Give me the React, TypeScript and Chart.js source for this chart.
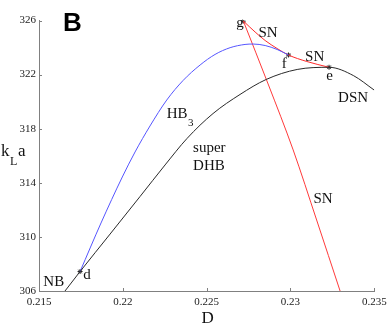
import React, { useEffect, useRef } from "react";
import { Chart, registerables } from "chart.js";

Chart.register(...registerables);

// Axis ticks
const X_TICKS = [0.215, 0.22, 0.225, 0.23, 0.235];
const Y_TICKS = [306, 310, 314, 318, 322, 326];

// super DHB / DSN branch (black)
const DHB_D = [0.21655, 0.21745, 0.21924, 0.22103, 0.22252, 0.22383, 0.22538, 0.22699, 0.22855, 0.2304, 0.2323, 0.23375, 0.23499];
const DHB_K = [306.0, 307.44, 310.21, 312.99, 315.32, 317.28, 319.12, 320.53, 321.64, 322.38, 322.54, 321.93, 320.86];

// HB3 branch (blue)
const HB3_D = [0.21745, 0.2187, 0.21997, 0.22073, 0.22162, 0.22262, 0.22359, 0.22461, 0.2255, 0.2264, 0.22729, 0.22777, 0.22849, 0.2292, 0.22988];
const HB3_K = [307.44, 311.03, 314.43, 316.28, 318.2, 320.12, 321.56, 322.71, 323.49, 323.99, 324.23, 324.26, 324.15, 323.86, 323.45];

// SN upper branch g -> f -> e (red)
const SNU_D = [0.22719, 0.22789, 0.22849, 0.2292, 0.22988, 0.23097, 0.2323];
const SNU_K = [325.96, 325.15, 324.52, 323.93, 323.45, 322.97, 322.54];

// SN lower branch g -> axis (red)
const SNL_D = [0.22719, 0.22869, 0.23016, 0.23156, 0.23296];
const SNL_K = [325.96, 321.23, 316.43, 311.25, 306.0];

// Special points d, e, f, g
const PT_D = [0.21745, 0.2323, 0.22988, 0.22719];
const PT_K = [307.44, 322.54, 323.45, 325.96];

// Text labels (anchored in data coordinates)
const LABEL_TEXT = ["SN", "SN", "DSN", "SN", "g", "f", "e", "d", "NB", "HB", "super", "DHB"];
const LABEL_D = [0.22809, 0.23087, 0.23284, 0.23137, 0.22676, 0.22948, 0.23213, 0.21764, 0.21526, 0.22262, 0.22419, 0.22419];
const LABEL_K = [324.78, 323.01, 320.01, 312.51, 325.52, 322.49, 321.6, 306.89, 306.37, 318.79, 316.28, 314.95];
const SUB_TEXT = ["3"];
const SUB_D = [0.22389];
const SUB_K = [318.2];
const PANEL = "B";
const PANEL_D = 0.21643;
const PANEL_K = 325.22;

const zip = (xs: number[], ys: number[]) => xs.map((v, i) => ({ x: v, y: ys[i] }));

const SERIF = '"Liberation Serif", "Times New Roman", serif';

const textPlugin = {
  id: "annotText",
  afterDatasetsDraw(chart: any) {
    const { ctx, chartArea } = chart;
    const xs = chart.scales.x;
    const ys = chart.scales.y;
    ctx.save();
    // inward tick marks
    ctx.strokeStyle = "#808080";
    ctx.lineWidth = 1;
    ctx.beginPath();
    X_TICKS.forEach((v) => {
      const px = Math.round(xs.getPixelForValue(v)) + 0.5;
      ctx.moveTo(px, chartArea.bottom);
      ctx.lineTo(px, chartArea.bottom - 3);
    });
    Y_TICKS.forEach((v) => {
      const py = Math.round(ys.getPixelForValue(v)) + 0.5;
      ctx.moveTo(chartArea.left, py);
      ctx.lineTo(chartArea.left + 3, py);
    });
    ctx.stroke();

    ctx.fillStyle = "#111";
    ctx.textAlign = "left";
    ctx.textBaseline = "alphabetic";
    ctx.font = `15px ${SERIF}`;
    LABEL_TEXT.forEach((t, i) => {
      ctx.fillText(t, xs.getPixelForValue(LABEL_D[i]), ys.getPixelForValue(LABEL_K[i]));
    });
    ctx.font = `11px ${SERIF}`;
    SUB_TEXT.forEach((t, i) => {
      ctx.fillText(t, xs.getPixelForValue(SUB_D[i]), ys.getPixelForValue(SUB_K[i]));
    });
    ctx.fillStyle = "#000";
    ctx.font = `700 26px "Liberation Sans", Arial, sans-serif`;
    ctx.fillText(PANEL, xs.getPixelForValue(PANEL_D), ys.getPixelForValue(PANEL_K));

    // axis titles
    ctx.fillStyle = "#111";
    ctx.font = `17px ${SERIF}`;
    ctx.textAlign = "center";
    ctx.fillText("D", (chartArea.left + chartArea.right) / 2 + 1, chartArea.bottom + 32);
    const cy = (chartArea.top + chartArea.bottom) / 2;
    ctx.textAlign = "left";
    ctx.fillText("k", 1, cy);
    ctx.font = `12px ${SERIF}`;
    ctx.fillText("L", 10, cy + 9);
    ctx.font = `17px ${SERIF}`;
    ctx.fillText("a", 18, cy);
    ctx.restore();
  },
};

export default function App() {
  const ref = useRef<HTMLCanvasElement>(null);
  useEffect(() => {
    if (!ref.current) return;
    const line = (data: any, color: string) => ({
      data,
      showLine: true,
      borderColor: color,
      backgroundColor: color,
      borderWidth: 1,
      pointRadius: 0,
      cubicInterpolationMode: "monotone",
      fill: false,
    });
    const chart = new Chart(ref.current, {
      type: "scatter",
      data: {
        datasets: [
          line(zip(DHB_D, DHB_K), "#2a2a2a"),
          line(zip(HB3_D, HB3_K), "#5555ff"),
          line(zip(SNU_D, SNU_K), "#ff2a2a"),
          line(zip(SNL_D, SNL_K), "#ff3a3a"),
          {
            data: zip(PT_D, PT_K),
            showLine: false,
            pointStyle: "star",
            pointRadius: 2.5,
            borderColor: "#222",
            backgroundColor: "#222",
            borderWidth: 1,
          } as any,
        ] as any,
      },
      options: {
        responsive: false,
        animation: false,
        devicePixelRatio: 1,
        layout: { padding: { top: 20.5, right: 17.7, left: 0, bottom: 0 } },
        plugins: { legend: { display: false }, tooltip: { enabled: false } },
        scales: {
          x: {
            type: "linear",
            min: 0.215,
            max: 0.235,
            grid: { display: false, drawTicks: false },
            border: { display: true, color: "#808080", width: 1 },
            afterBuildTicks: (s: any) => {
              s.ticks = X_TICKS.map((v) => ({ value: v }));
            },
            afterFit: (s: any) => {
              s.height = 36;
            },
            ticks: {
              padding: 5,
              color: "#222",
              font: { family: SERIF, size: 11 },
              maxRotation: 0,
              autoSkip: false,
              callback: (v: any) => String(Number(Number(v).toFixed(3))),
            },
          },
          y: {
            type: "linear",
            min: 306,
            max: 326,
            grid: { display: false, drawTicks: false },
            border: { display: true, color: "#808080", width: 1 },
            afterBuildTicks: (s: any) => {
              s.ticks = Y_TICKS.map((v) => ({ value: v }));
            },
            afterFit: (s: any) => {
              s.width = 39;
            },
            ticks: {
              padding: 3,
              color: "#222",
              font: { family: SERIF, size: 11 },
              autoSkip: false,
              callback: (v: any) => String(v),
            },
          },
        },
      } as any,
      plugins: [textPlugin],
    });
    return () => chart.destroy();
  }, []);
  return (
    <div style={{ position: "absolute", left: 0, top: 0, width: 392, height: 327, background: "#fff" }}>
      <canvas ref={ref} width={392} height={327} style={{ width: 392, height: 327, display: "block" }} />
    </div>
  );
}
